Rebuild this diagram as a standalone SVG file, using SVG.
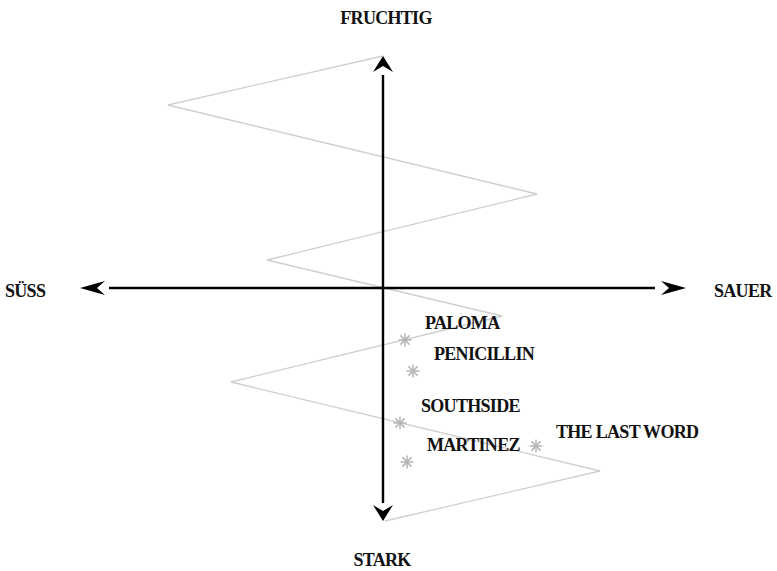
<svg xmlns="http://www.w3.org/2000/svg" width="777" height="571" viewBox="0 0 777 571">
<style>
.lbl{font-family:"Liberation Serif","DejaVu Serif",serif;font-size:18px;font-weight:bold;fill:#111;letter-spacing:-0.7px}
.zig{fill:none;stroke:#cfcfcf;stroke-width:1.3}
.axis{stroke:#000;stroke-width:2.4}
.head{fill:#000}
.star{stroke:#b5b5b5;stroke-width:1.5}
</style>
<defs>
<g id="ast">
<line x1="0" y1="-6.5" x2="0" y2="6.5"/>
<line x1="-6.5" y1="0" x2="6.5" y2="0"/>
<line x1="-4.6" y1="-4.6" x2="4.6" y2="4.6"/>
<line x1="-4.6" y1="4.6" x2="4.6" y2="-4.6"/>
</g>
</defs>
<rect width="777" height="571" fill="#fff"/>
<g id="connectors">
<polyline class="zig" points="383,56 168,105 537,194 267,260 502,316 231,382 600,471 385,521"/>
<line class="axis" x1="383" y1="75" x2="383" y2="503"/>
<line class="axis" x1="109" y1="288" x2="655" y2="288"/>
<path class="head" d="M383,56 L393,72 L383,66 L373,72 Z"/>
<path class="head" d="M383,521 L393,505 L383,511 L373,505 Z"/>
<path class="head" d="M80,288 L105,281 L97,288 L105,295 Z"/>
<path class="head" d="M686,288 L661,281 L669,288 L661,295 Z"/>
</g>
<g id="axis-labels">
<text id="fruchtig" class="lbl" x="386" y="24" text-anchor="middle">FRUCHTIG</text>
<text id="stark" class="lbl" x="382" y="566" text-anchor="middle">STARK</text>
<text id="suess" class="lbl" x="5" y="297">SÜSS</text>
<text id="sauer" class="lbl" x="714" y="297">SAUER</text>
</g>
<g id="paloma"><use href="#ast" class="star" x="405" y="340"/><text class="lbl" x="425" y="329">PALOMA</text></g>
<g id="penicillin"><use href="#ast" class="star" x="413" y="371"/><text class="lbl" x="434" y="360">PENICILLIN</text></g>
<g id="southside"><use href="#ast" class="star" x="400" y="423"/><text class="lbl" x="421" y="412">SOUTHSIDE</text></g>
<g id="martinez"><use href="#ast" class="star" x="407" y="462"/><text class="lbl" x="427" y="451">MARTINEZ</text></g>
<g id="the-last-word"><use href="#ast" class="star" x="536" y="446"/><text class="lbl" x="556" y="438">THE LAST WORD</text></g>
</svg>
